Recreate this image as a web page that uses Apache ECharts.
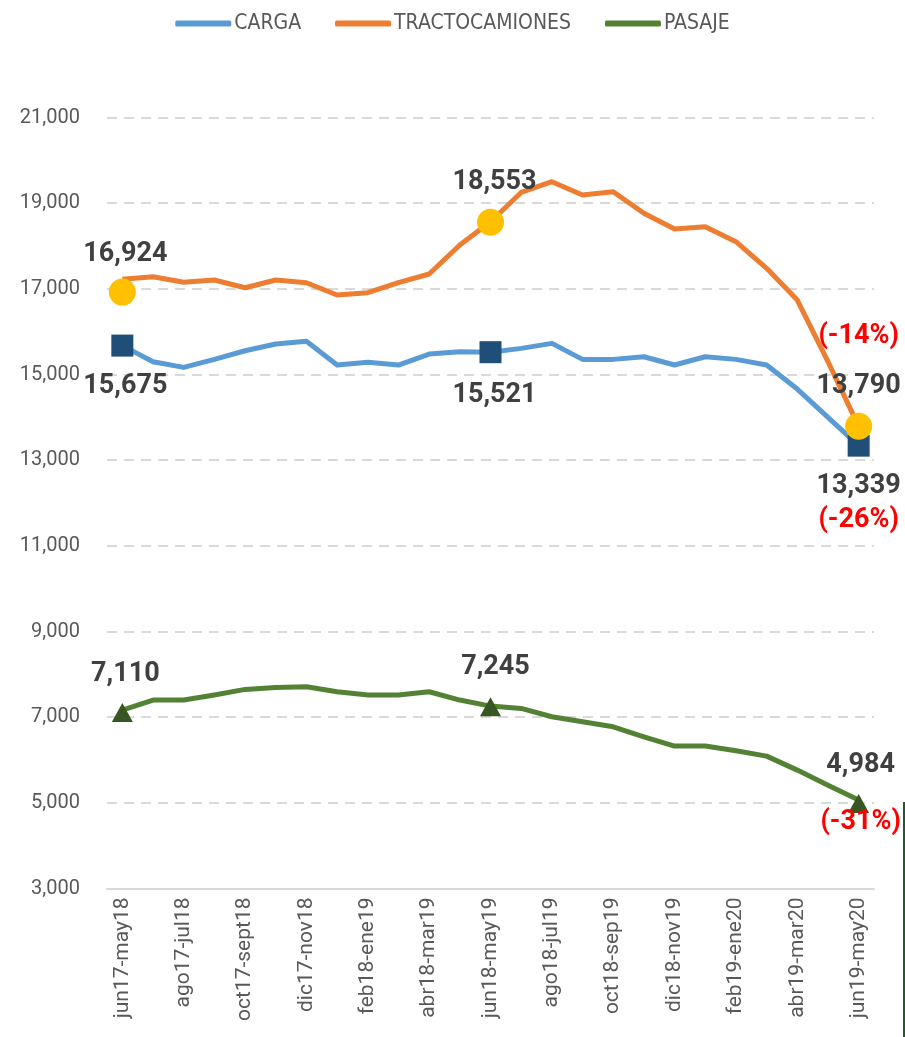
<!DOCTYPE html>
<html>
<head>
<meta charset="utf-8">
<script src="https://cdn.jsdelivr.net/npm/echarts@6/dist/echarts.min.js"></script>
<style>
html,body{margin:0;padding:0;background:#fff;}
#chart{width:905px;height:1037px;}
</style>
</head>
<body>
<div id="chart"></div>
<script>
// ---- DATA ----
const categories = [
  'jun17-may18','jul17-jun18','ago17-jul18','sep17-ago18','oct17-sept18','nov17-oct18',
  'dic17-nov18','ene18-dic18','feb18-ene19','mar18-feb19','abr18-mar19','may18-abr19',
  'jun18-may19','jul18-jun19','ago18-jul19','sep18-ago19','oct18-sep19','nov18-oct19',
  'dic18-nov19','ene19-dic19','feb19-ene20','mar19-feb20','abr19-mar20','may19-abr20',
  'jun19-may20'
];
const carga = [15675,15298,15166,15353,15555,15711,15774,15221,15284,15221,15478,15532,
  15521,15610,15727,15353,15353,15415,15221,15415,15353,15221,14660,14000,13339];
const tractocamiones = [17222,17283,17152,17206,17026,17206,17143,16855,16910,17143,17346,18023,
  18567,19250,19501,19190,19268,18763,18397,18450,18100,17478,16739,15300,13790];
const pasaje = [7165,7399,7399,7516,7648,7695,7710,7593,7516,7516,7593,7399,
  7258,7204,7009,6892,6775,6542,6325,6325,6215,6091,5764,5413,5064];
const markIdx = [0, 12, 24];
const cargaMark = [15675, 15521, 13339];
const tractoMark = [16924, 18553, 13790];
const pasajeMark = [7110, 7245, 4984];
const cargaChange = '(-26%)';
const tractoChange = '(-14%)';
const pasajeChange = '(-31%)';
const yTicks = {min: 3000, max: 21000, interval: 2000};

// ---- STYLE ----
const NARROW = "'Liberation Sans Narrow','DejaVu Sans Condensed',sans-serif";
const GREY = '#595959';
const LBL = '#404040';
const fmt = v => v.toLocaleString('en-US');
const rich = {
  v: {fontFamily: 'Roboto', fontWeight: 'bold', fontSize: 27, color: LBL},
  r: {fontFamily: 'Roboto', fontWeight: 'bold', fontSize: 27, color: '#FF0000'},
  s: {fontSize: 10}
};

function markData(vals, labelFn) {
  return vals.map((v, i) => ({value: [markIdx[i], v], label: labelFn(v, i)}));
}

const tractoPts = markData(tractoMark, (v, i) => {
  if (i === 2) {
    return {show: true, position: 'top', distance: 2, offset: [0, 0],
      formatter: '{r|' + tractoChange + '}\n{v|' + fmt(v) + '}',
      rich: {v: Object.assign({}, rich.v, {lineHeight: 50}), r: Object.assign({}, rich.r, {lineHeight: 50})}};
  }
  return {show: true, position: 'top', distance: i === 0 ? 11 : 13, offset: [i === 0 ? 3 : 4, 0],
    formatter: '{v|' + fmt(v) + '}', rich: rich};
});
const cargaPts = markData(cargaMark, (v, i) => {
  if (i === 2) {
    return {show: true, position: 'bottom', distance: 13,
      formatter: '{v|' + fmt(v) + '}\n{r|' + cargaChange + '}',
      rich: {v: Object.assign({}, rich.v, {lineHeight: 34}), r: Object.assign({}, rich.r, {lineHeight: 34})}};
  }
  return {show: true, position: 'bottom', distance: i === 0 ? 16 : 19, offset: [i === 0 ? 3 : 4, 0],
    formatter: '{v|' + fmt(v) + '}', rich: rich};
});
const pasajePts = markData(pasajeMark, (v, i) => {
  if (i === 2) {
    return {show: true, position: 'inside', offset: [2, -10],
      formatter: '{v|' + fmt(v) + '}\n{s|}\n{r|' + pasajeChange + '}',
      rich: {v: Object.assign({}, rich.v, {lineHeight: 30}), s: {lineHeight: 27},
             r: Object.assign({}, rich.r, {lineHeight: 30})}};
  }
  return {show: true, position: 'top', distance: i === 0 ? 15 : 16, offset: [i === 0 ? 3 : 5, 0],
    formatter: '{v|' + fmt(v) + '}', rich: rich};
});

const chart = echarts.init(document.getElementById('chart'), null, {renderer: 'canvas'});
chart.setOption({
  backgroundColor: '#ffffff',
  animation: false,
  legend: {
    data: ['CARGA', 'TRACTOCAMIONES', 'PASAJE'],
    top: 8, left: 'center',
    icon: 'roundRect',
    itemWidth: 56, itemHeight: 6, itemGap: 34,
    textStyle: {fontFamily: NARROW, fontSize: 21, color: GREY, padding: [0, 0, 0, -2]}
  },
  grid: {left: 107, right: 31, top: 117.5, bottom: 148.5, containLabel: false},
  xAxis: {
    type: 'category',
    data: categories,
    boundaryGap: true,
    axisLine: {lineStyle: {color: '#D9D9D9', width: 2}},
    axisTick: {show: false},
    axisLabel: {interval: 1, rotate: 90, margin: 9, fontFamily: 'Roboto', fontSize: 21, color: GREY}
  },
  yAxis: {
    type: 'value',
    min: yTicks.min, max: yTicks.max, interval: yTicks.interval,
    axisLine: {show: false}, axisTick: {show: false},
    axisLabel: {formatter: v => fmt(v), fontFamily: 'Roboto', fontSize: 20, color: GREY, margin: 27},
    splitLine: {lineStyle: {color: '#D9D9D9', width: 2, type: [10, 7]}}
  },
  series: [
    {name: 'CARGA', type: 'line', data: carga, symbol: 'none', z: 2,
      lineStyle: {color: '#5B9BD5', width: 5, join: 'round'}, itemStyle: {color: '#5B9BD5'}},
    {name: 'TRACTOCAMIONES', type: 'line', data: tractocamiones, symbol: 'none', z: 2,
      lineStyle: {color: '#ED7D31', width: 5, join: 'round'}, itemStyle: {color: '#ED7D31'}},
    {name: 'PASAJE', type: 'line', data: pasaje, symbol: 'none', z: 2,
      lineStyle: {color: '#548235', width: 5, join: 'round'}, itemStyle: {color: '#548235'}},
    {name: 'cargaMk', type: 'scatter', data: cargaPts, symbol: 'rect', symbolSize: 22, z: 3,
      itemStyle: {color: '#1F4E79', opacity: 1}},
    {name: 'tractoMk', type: 'scatter', data: tractoPts, symbol: 'circle', symbolSize: 27, z: 4,
      itemStyle: {color: '#FFC000', opacity: 1}},
    {name: 'pasajeMk', type: 'scatter', data: pasajePts, symbol: 'triangle', symbolSize: [21, 19], z: 3,
      itemStyle: {color: '#375623', opacity: 1}}
  ],
  graphic: [{type: 'rect', left: 903, top: 802, shape: {width: 2, height: 235}, style: {fill: '#1E5A2A'}}]
});
</script>
</body>
</html>
